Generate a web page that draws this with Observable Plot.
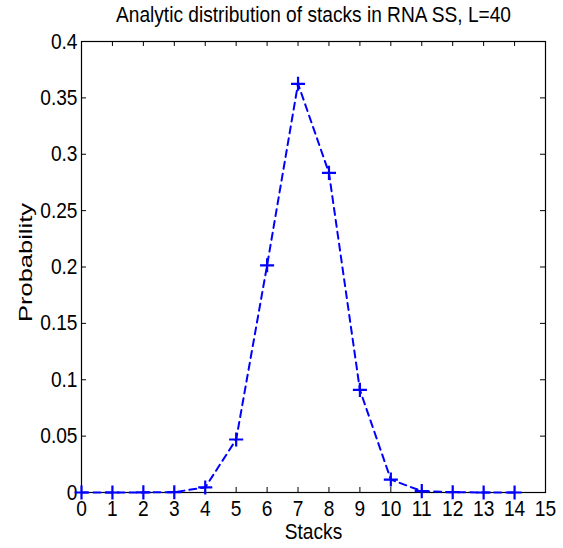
<!DOCTYPE html>
<html>
<head>
<meta charset="utf-8">
<script src="https://cdn.jsdelivr.net/npm/d3@7"></script>
<script src="https://cdn.jsdelivr.net/npm/@observablehq/plot@0.6"></script>
<style>
  html, body { margin: 0; padding: 0; background: #fff; }
  svg { display: block; }
</style>
</head>
<body>
<div id="chart"></div>
<script>
const stacks = [0, 1, 2, 3, 4, 5, 6, 7, 8, 9, 10, 11, 12, 13, 14];
const probability = [0, 0, 0.0001, 0.0003, 0.0045, 0.047, 0.2015, 0.3625, 0.2835, 0.091, 0.0115, 0.0012, 0.0003, 0, 0];
const xTicks = [0, 1, 2, 3, 4, 5, 6, 7, 8, 9, 10, 11, 12, 13, 14, 15];
const yTicks = [0, 0.05, 0.1, 0.15, 0.2, 0.25, 0.3, 0.35, 0.4];
const yTickLabels = ["0", "0.05", "0.1", "0.15", "0.2", "0.25", "0.3", "0.35", "0.4"];
const title = "Analytic distribution of stacks in RNA SS, L=40";
const xLabel = "Stacks";
const yLabel = "Probability";

const data = stacks.map((s, i) => ({stacks: s, p: probability[i]}));

const W = 563, H = 548;
const mL = 81, mR = 18, mT = 41, mB = 56;
const fw = W - mL - mR, fh = H - mT - mB;
const tick = 5;
const font = "'Liberation Sans', Arial, Helvetica, sans-serif";
const blue = "#0000ff";
const FS = 22;

const chart = Plot.plot({
  width: W,
  height: H,
  marginLeft: mL,
  marginRight: mR,
  marginTop: mT,
  marginBottom: mB,
  style: {fontFamily: font, fontSize: FS + "px", color: "#000", background: "#fff"},
  x: {domain: [0, 15]},
  y: {domain: [0, 0.4]},
  marks: [
    Plot.frame({stroke: "#000", strokeWidth: 1.2}),
    // inward ticks on all four sides
    Plot.tickY(yTicks, {y: d => d, stroke: "#000", insetRight: fw - tick}),
    Plot.tickY(yTicks, {y: d => d, stroke: "#000", insetLeft: fw - tick}),
    Plot.tickX(xTicks, {x: d => d, stroke: "#000", insetTop: fh - tick}),
    Plot.tickX(xTicks, {x: d => d, stroke: "#000", insetBottom: fh - tick}),
    Plot.axisX({ticks: xTicks, tickSize: 0, tickPadding: 8, label: null, fontSize: FS}),
    Plot.axisY({ticks: yTicks, tickSize: 0, tickPadding: 4, label: null, fontSize: FS,
      tickFormat: d => yTickLabels[yTicks.indexOf(d)]}),
    Plot.line(data, {x: "stacks", y: "p", stroke: blue, strokeWidth: 2, strokeDasharray: "7,5"}),
    Plot.dot(data, {x: "stacks", y: "p", symbol: "plus", stroke: blue, strokeWidth: 2.2, r: 4.6}),
    Plot.text([title], {frameAnchor: "top", dy: -26.5, lineAnchor: "middle", textAnchor: "middle", fontSize: FS, fill: "#000"}),
    Plot.text([xLabel], {frameAnchor: "bottom", dy: 39.5, lineAnchor: "middle", textAnchor: "middle", fontSize: FS, fill: "#000"}),
    Plot.text([yLabel], {frameAnchor: "left", dx: -56, dy: -4.5, rotate: -90, lineAnchor: "middle", textAnchor: "middle", fontSize: FS, fill: "#000"})
  ]
});

// The reference's lettering is horizontally condensed (Helvetica-like, narrow);
// emulate it by scaling each text about its own anchor point.
function squish(el, sx, sy) {
  const isNum = v => v != null && /^-?[\d.]+$/.test(v.trim());
  let pre = "";
  const xa = el.getAttribute("x"), ya = el.getAttribute("y");
  if (isNum(xa) || isNum(ya)) {
    const x = isNum(xa) ? +xa : 0, y = isNum(ya) ? +ya : 0;
    if (isNum(xa)) el.removeAttribute("x");
    if (isNum(ya)) el.removeAttribute("y");
    pre = ` translate(${x},${y})`;
  }
  const t = el.getAttribute("transform") || "";
  el.setAttribute("transform", `${t}${pre} scale(${sx},${sy})`);
}
d3.select(chart).selectAll("text").each(function() {
  if (this.textContent === yLabel) squish(this, 1.16, 0.87);
  else squish(this, 0.87, 1);
});

document.getElementById("chart").appendChild(chart);
</script>
</body>
</html>
